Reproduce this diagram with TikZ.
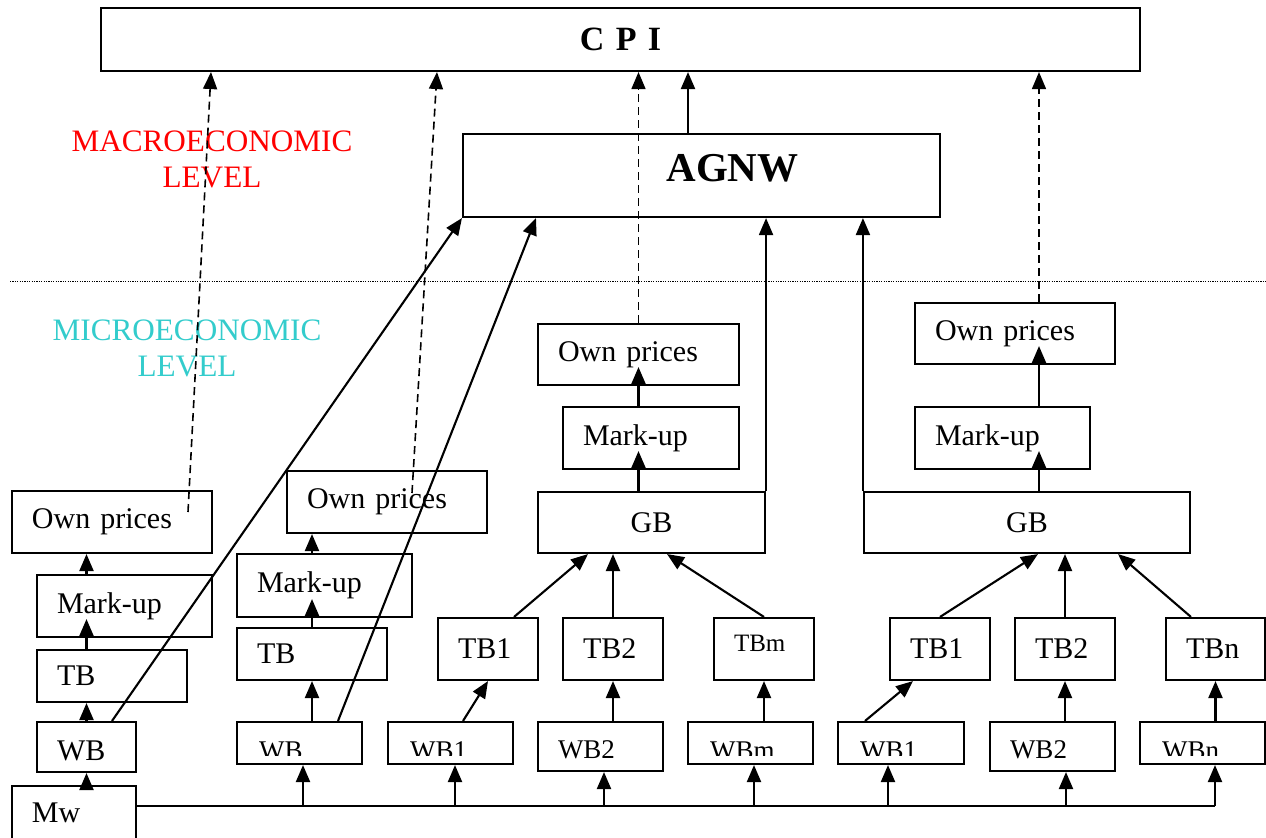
\documentclass[tikz,border=0pt]{standalone}
\usepackage{fontspec}
\setmainfont{Liberation Serif}
\usetikzlibrary{arrows.meta,calc}
\definecolor{macrocol}{RGB}{255,0,0}
\definecolor{microcol}{RGB}{51,204,204}
\newcommand\fsA{\fontsize{15}{18}\selectfont}
\newcommand\fsL{\fontsize{15.6}{18}\selectfont}
\newcommand\fsW{\fontsize{13.5}{16}\selectfont}
\newcommand\fsM{\fontsize{12.5}{15}\selectfont}
\newcommand\mkbox[7]{\node[box, minimum width={(#4-#2)*0.5pt}, minimum height={(#5-#3)*0.5pt}, text width={(#4-#2)*0.5pt-20pt}, #6] (#1) at ({(#2+#4)/2},{(#3+#5)/2}) {#7};}
\begin{document}
\begin{tikzpicture}[x=0.5pt,y=-0.5pt,
  box/.style={draw, line width=1.05pt, inner xsep=10pt, inner ysep=1pt, font=\fsA, align=left},
  cbox/.style={align=center},
  clipwb/.style={path picture={
     \clip ([yshift=4.5pt]path picture bounding box.south west) rectangle (path picture bounding box.north east);
     \node[anchor=base west, inner sep=0pt, draw=none, fill=none, minimum width=0pt, minimum height=0pt, text width={}, text height={}, text depth={}, font=\fsW] at ([xshift=10.5pt,yshift=-18.5pt]path picture bounding box.north west) {#1};}},
  fullwb/.style={font=\fsW, text height=11.5pt, text depth=0pt},
  arr/.style={-{Triangle[length=8.5pt,width=7pt]}, line width=1.05pt},
  ln/.style={line width=1.05pt},
  darr/.style={arr, line width=0.8pt, dash pattern=on 4pt off 2.5pt},
  lvl/.style={align=center, font=\fsL, inner sep=0pt}
]
\useasboundingbox (0,0) rectangle (1266,837);

% top level
\mkbox{cpi}{101}{8}{1140}{71}{cbox, font=\bfseries\fontsize{17}{20}\selectfont}{C P I}
\mkbox{agnw}{463}{134}{940}{217}{}{}
\node[fill=white, anchor=north west, inner xsep=26pt, inner ysep=0pt, minimum height=33pt,
      font=\bfseries\fontsize{20.5}{24}\selectfont] (agnwt) at (614,135) {AGNW};

% level labels and separator
\coordinate (sepL) at (10,281);
\coordinate (sepR) at (1266,281);
\draw[line width=0.5pt, dash pattern=on 0.6pt off 0.6pt] (sepL) -- (sepR);
\node[lvl, text=macrocol] (macro) at (212,159) {MACROECONOMIC\\LEVEL};
\node[lvl, text=microcol] (micro) at (187,348) {MICROECONOMIC\\LEVEL};

% left column
\mkbox{op1}{12}{491}{212}{553}{}{Own prices}
\mkbox{mu1}{37}{575}{212}{637}{}{Mark-up}
\mkbox{tb1}{37}{650}{187}{702}{}{TB}
\mkbox{wb1}{37}{722}{136}{772}{text height=13pt, text depth=0pt}{WB}
\mkbox{mw}{12}{786}{136}{840}{}{Mw}

% mid-left column
\mkbox{op2}{287}{471}{487}{533}{}{Own prices}
\mkbox{mu2}{237}{554}{412}{617}{}{Mark-up}
\mkbox{tb2}{237}{628}{387}{680}{}{TB}
\mkbox{wb2}{237}{722}{362}{764}{clipwb=WB}{}

% middle group
\mkbox{op3}{538}{324}{739}{385}{}{Own prices}
\mkbox{mu3}{563}{407}{739}{469}{}{Mark-up}
\mkbox{gb1}{538}{492}{765}{553}{cbox}{GB}
\mkbox{tb3}{438}{618}{538}{680}{}{TB1}
\mkbox{tb4}{563}{618}{663}{680}{}{TB2}
\mkbox{tb5}{714}{618}{814}{680}{font=\fsM, text height=8.5pt, text depth=6pt}{TBm}
\mkbox{wb3}{388}{722}{513}{764}{clipwb=WB1}{}
\mkbox{wb4}{538}{722}{663}{771}{fullwb}{WB2}
\mkbox{wb5}{688}{722}{813}{764}{clipwb=WBm}{}

% right group
\mkbox{op4}{915}{303}{1115}{364}{}{Own prices}
\mkbox{mu4}{915}{407}{1090}{469}{}{Mark-up}
\mkbox{gb2}{864}{492}{1190}{553}{cbox}{GB}
\mkbox{tb6}{890}{618}{990}{680}{}{TB1}
\mkbox{tb7}{1015}{618}{1115}{680}{}{TB2}
\mkbox{tb8}{1166}{618}{1265}{680}{}{TBn}
\mkbox{wb6}{838}{722}{964}{764}{clipwb=WB1}{}
\mkbox{wb7}{990}{722}{1115}{771}{fullwb}{WB2}
\mkbox{wb8}{1140}{722}{1265}{764}{clipwb=WBn}{}

% bus from Mw
\coordinate (bus) at (0,806);
\draw[ln] (mw.east |- bus) -- ($(wb8.south |- bus)+(12.5,0)$);
\foreach \n/\dx in {wb2/3.5, wb3/4.5, wb4/3.5, wb5/3.5, wb6/-13, wb7/13.5, wb8/12.5}
  \draw[arr] ($(\n.south |- bus)+(\dx,0)$) -- ($(\n.south)+(\dx,0)$);
\draw[arr] (wb1.south |- mw.north) -- (wb1.south);

% left column arrows
\draw[arr] (wb1.north) -- (wb1.north |- tb1.south);
\draw[arr] (wb1.north |- tb1.north) -- ($(wb1.north |- mu1.south)+(0,-19)$);
\draw[arr] (wb1.north |- mu1.north) -- (wb1.north |- op1.south);

% mid-left arrows
\draw[arr] (tb2.south |- wb2.north) -- (tb2.south);
\draw[arr] (tb2.north) -- ($(tb2.north |- mu2.south)+(0,-19)$);
\draw[arr] (tb2.north |- mu2.north) -- (tb2.north |- op2.south);

% middle group arrows
\draw[arr] ($(wb3.north)+(12.5,0)$) -- (tb3.south);
\draw[arr] (tb4.south |- wb4.north) -- (tb4.south);
\draw[arr] (tb5.south |- wb5.north) -- (tb5.south);
\draw[arr] ($(tb3.north)+(26,0)$) -- ($(gb1.south)+(-63.5,0)$);
\draw[arr] (tb4.north) -- (tb4.north |- gb1.south);
\draw[arr] (tb5.north) -- ($(gb1.south)+(15.5,0)$);
\draw[arr] (op3.south |- gb1.north) -- ($(op3.south |- mu3.south)+(0,-19)$);
\draw[arr] (op3.south |- mu3.north) -- ($(op3.south)+(0,-19)$);

% right group arrows
\coordinate (rx) at (1039,0);
\draw[arr] ($(wb6.north)+(-36,0)$) -- ($(tb6.south)+(-27,0)$);
\draw[arr] (tb7.south |- wb7.north) -- (tb7.south);
\draw[arr] (tb8.south |- wb8.north) -- (tb8.south);
\draw[arr] (tb6.north) -- ($(gb2.south)+(11,0)$);
\draw[arr] (tb7.north) -- (tb7.north |- gb2.south);
\draw[arr] ($(tb8.north)+(-24.5,0)$) -- ($(gb2.south)+(91,0)$);
\draw[arr] (rx |- gb2.north) -- ($(rx |- mu4.south)+(0,-19)$);
\draw[arr] (rx |- mu4.north) -- ($(rx |- op4.south)+(0,-19)$);

% into AGNW
\draw[arr] (gb1.north east) -- (gb1.north east |- agnw.south);
\draw[arr] (gb2.north west) -- (gb2.north west |- agnw.south);
\draw[arr] ($(wb1.north)+(25.5,0)$) -- (agnw.south west);
\draw[arr] ($(wb2.north)+(38.5,0)$) -- ($(agnw.south)+(-165.5,0)$);

% into CPI
\draw[arr] ($(agnw.north)+(-13.5,0)$) -- ($(agnw.north |- cpi.south)+(-13.5,0)$);
\draw[darr] ($(op1.center)+(76,-10)$) -- ($(cpi.south)+(-409.5,0)$);
\draw[darr] ($(op2.center)+(25,-9)$) -- ($(cpi.south)+(-183.5,0)$);
\draw[darr] (op3.north) -- (op3.north |- cpi.south);
\draw[darr] (rx |- op4.north) -- (rx |- cpi.south);
\end{tikzpicture}
\end{document}
